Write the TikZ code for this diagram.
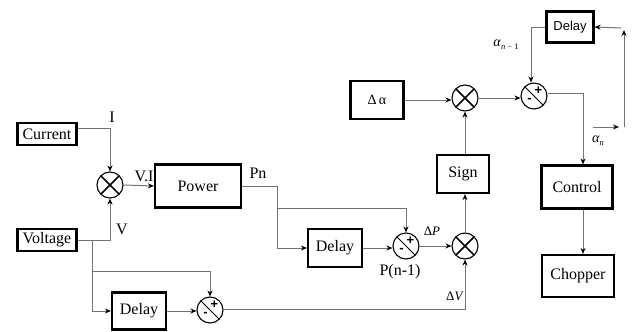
\documentclass[tikz,border=0pt]{standalone}
\usepackage{fontspec}
\setmainfont{Liberation Serif}
\newfontfamily\arialfont{Liberation Sans}
\usetikzlibrary{arrows.meta,calc}
\begin{document}
\begin{tikzpicture}[x=1pt,y=-1pt,
  box/.style={draw=black,line width=2.2pt,inner sep=0pt,font=\fontsize{16}{19}\selectfont},
  wire/.style={draw=black!55,line width=1pt},
  arr/.style={wire,-{Stealth[length=6pt,width=5pt,color=black]}},
  lbl/.style={font=\fontsize{16}{19}\selectfont,inner sep=0pt},
  mult/.style={circle,draw=black,line width=1.1pt,minimum size=26pt,inner sep=0pt,
    path picture={
      \draw[line width=1.7pt] ([shift={(135:13pt)}]path picture bounding box.center) -- ([shift={(-45:13pt)}]path picture bounding box.center);
      \draw[line width=1.7pt] ([shift={(45:13pt)}]path picture bounding box.center) -- ([shift={(-135:13pt)}]path picture bounding box.center);
    }},
  summ/.style={circle,draw=black,line width=1.1pt,minimum size=26pt,inner sep=0pt,
    path picture={
      \draw[line width=0.8pt] ([shift={(135:13pt)}]path picture bounding box.center) -- ([shift={(-45:13pt)}]path picture bounding box.center);
      \node[font=\arialfont\fontsize{13}{13}\selectfont\bfseries,inner sep=0pt] at ([shift={(4.5pt,5pt)}]path picture bounding box.center) {+};
      \node[font=\arialfont\fontsize{13}{13}\selectfont\bfseries,inner sep=0pt] at ([shift={(-4.5pt,-4.5pt)}]path picture bounding box.center) {-};
    }}
]
\useasboundingbox (0,0) rectangle (632,332);
% boxes
\node[box,minimum width=59pt,minimum height=22pt] (current) at (47,134) {Current};
\node[box,minimum width=59pt,minimum height=22pt] (voltage) at (47,240) {Voltage};
\node[box,minimum width=86pt,minimum height=43pt] (power) at (198,186) {Power};
\node[box,minimum width=54pt,minimum height=38pt] (delay2) at (335,248) {Delay};
\node[box,minimum width=54pt,minimum height=37pt] (delay1) at (139,311) {Delay};
\node[box,minimum width=52pt,minimum height=38pt] (sign) at (463,174) {Sign};
\node[box,minimum width=53pt,minimum height=38pt,font=\fontsize{14}{16}\selectfont] (dalpha) at (377,100) {Δ\,α};
\node[box,minimum width=47pt,minimum height=31pt,font=\arialfont\fontsize{13}{15}\selectfont] (delay3) at (570,27) {Delay};
\node[box,minimum width=71pt,minimum height=43pt] (control) at (577,187) {Control};
\node[box,minimum width=72pt,minimum height=42pt] (chopper) at (578,276) {Chopper};
% operators
\node[mult] (mult1) at (110,185) {};
\node[mult] (mult2) at (465,246) {};
\node[mult] (mult3) at (465,98) {};
\node[summ] (sum1) at (210,310) {};
\node[summ] (sum2) at (406,246) {};
\node[summ] (sum3) at (534,96) {};
% coordinates
\coordinate (vb) at (92,240);
\coordinate (vb2) at (92,271);
\coordinate (pb) at (277,186);
\coordinate (pb2) at (277,208);
\coordinate (a1) at (593,127);
\coordinate (a2) at (619,127);
\coordinate (a3) at (624,127);
\coordinate (a4) at (624,30);
\coordinate (a5) at (621,28);
% connectors
\draw[arr] ([yshift=6pt]current.east) -| (mult1.north);
\draw[arr] (voltage.east) -| (mult1.south);
\draw[wire] (vb) -- (vb2);
\draw[arr] (vb2) -| (sum1.north);
\draw[arr] (vb) |- (delay1.west);
\draw[arr] (mult1.east) -- (power.west);
\draw[wire] (power.east) -- (pb);
\draw[arr] (pb) |- (delay2.west);
\draw[arr] (pb2) -| (sum2.north);
\draw[arr] (delay2.east) -- (delay2.east -| sum2.west);
\draw[arr] (sum2.east) -- (mult2.west);
\draw[arr] (delay1.east) -- (delay1.east -| sum1.west);
\draw[arr] ([yshift=1pt]sum1.east) -| (mult2.south);
\draw[arr] (mult2.north) -- (mult2.north |- sign.south);
\draw[arr] (sign.north -| mult3.south) -- (mult3.south);
\draw[arr] (dalpha.east) -- (dalpha.east -| mult3.west);
\draw[arr] (mult3.east) -- (mult3.east -| sum3.west);
\draw[arr] (delay3.west) -| ([xshift=-3pt]sum3.north);
\draw[arr] ([yshift=3pt]sum3.east) -| ([xshift=6pt]control.north);
\draw[arr] ([xshift=6pt]control.south) -- ([xshift=6pt]control.south |- chopper.north);
\draw[arr] (a1) -- (a2);
\draw[arr] (a3) -- (a4);
\draw[arr] (a5) -- (delay3.east);
% labels
\node[lbl] (lI) at (112,117) {I};
\node[lbl] (lV) at (122,229) {V};
\node[lbl] (lVI) at (144,176) {V.I};
\node[lbl] (lPn) at (258,173) {Pn};
\node[lbl] (lPn1) at (400,272) {P(n-1)};
\node[lbl,font=\fontsize{13}{15}\selectfont] (ldP) at (432,231) {Δ\textit{P}};
\node[lbl,font=\fontsize{13}{15}\selectfont] (ldV) at (455,296) {Δ\textit{V}};
\node[lbl,font=\fontsize{14}{16}\selectfont] (lan1) at (506,45) {\textit{α}\raisebox{-3pt}{\fontsize{8.5}{9}\selectfont\textit{n} − 1}};
\node[lbl,font=\fontsize{14}{16}\selectfont] (lan) at (598,141) {\textit{α}\raisebox{-3pt}{\fontsize{8.5}{9}\selectfont\textit{n}}};
\end{tikzpicture}
\end{document}
